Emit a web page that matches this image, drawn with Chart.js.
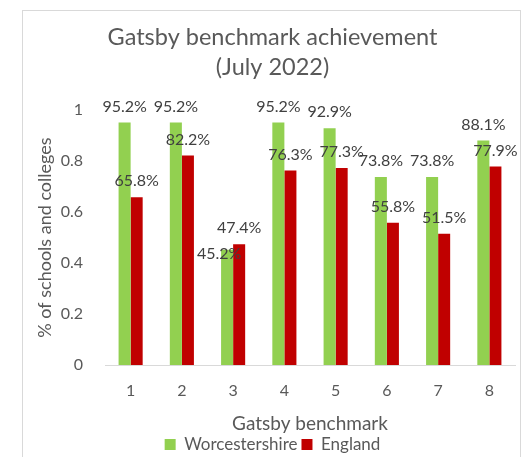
<!DOCTYPE html>
<html lang="en">
<head>
<meta charset="UTF-8">
<title>Gatsby benchmark achievement</title>
<script src="https://cdn.jsdelivr.net/npm/chart.js"></script>
<style>
  body { margin: 0; background: #fff; }
  #frame { position: absolute; left: 22px; top: 10px; width: 497px; height: 460px; border: 1px solid #d9d9d9; }
  #wrap { position: absolute; left: 0; top: 0; width: 526px; height: 457px; }
</style>
</head>
<body>
<div id="frame"></div>
<div id="wrap"><canvas id="chart"></canvas></div>
<script>
const benchmarks = ['1', '2', '3', '4', '5', '6', '7', '8'];
const worcestershire = [0.952, 0.952, 0.452, 0.952, 0.929, 0.738, 0.738, 0.881];
const england = [0.658, 0.822, 0.474, 0.763, 0.773, 0.558, 0.515, 0.779];
const yTicks = [0, 0.2, 0.4, 0.6, 0.8, 1];

const grey = '#595959';
const font = 'Lato';

// percentage labels above each bar (Excel moved the 45.2% one aside)
const valueLabels = {
    id: 'valueLabels',
    afterDatasetsDraw(chart, args, opts) {
        const ctx = chart.ctx;
        ctx.save();
        ctx.font = opts.size + 'px ' + font;
        ctx.fillStyle = opts.color;
        ctx.textAlign = 'center';
        ctx.textBaseline = 'middle';
        chart.data.datasets.forEach((ds, di) => {
            chart.getDatasetMeta(di).data.forEach((bar, i) => {
                const n = (opts.nudge[di] && opts.nudge[di][i]) || [0, 0];
                const txt = (ds.data[i] * 100).toFixed(1) + '%';
                ctx.fillText(txt, bar.x + n[0], bar.y - opts.offset + n[1]);
            });
        });
        ctx.restore();
    }
};

new Chart(document.getElementById('chart'), {
    type: 'bar',
    data: {
        labels: benchmarks,
        datasets: [{
            label: 'Worcestershire',
            data: worcestershire,
            backgroundColor: '#92d050'
        }, {
            label: 'England',
            data: england,
            backgroundColor: '#c00000'
        }]
    },
    options: {
        responsive: true,
        maintainAspectRatio: false,
        animation: false,
        datasets: {
            bar: { categoryPercentage: 0.47, barPercentage: 1 }
        },
        layout: { padding: { left: 30, right: 11, top: 0, bottom: -6 } },
        scales: {
            x: {
                grid: { display: false },
                border: { display: true, color: '#d9d9d9' },
                ticks: { color: grey, font: { family: font, size: 16 }, padding: 8 },
                title: {
                    display: true, text: 'Gatsby benchmark', color: grey,
                    font: { family: font, size: 19, lineHeight: 0.84 }, padding: 0
                },
                afterFit: (s) => { s.height = 67; }
            },
            y: {
                min: 0,
                max: 1,
                afterBuildTicks: (s) => { s.ticks = yTicks.map(v => ({ value: v })); },
                grid: { display: false, drawTicks: false },
                border: { display: false },
                ticks: {
                    color: grey, font: { family: font, size: 16 }, padding: 22,
                    callback: (v) => String(v)
                },
                title: {
                    display: true, text: '% of schools and colleges', color: grey,
                    font: { family: font, size: 18 }, padding: 4
                },
                afterFit: (s) => { s.width = 75; }
            }
        },
        plugins: {
            title: {
                display: true,
                text: ['Gatsby benchmark achievement', '(July 2022)'],
                color: grey,
                font: { family: font, size: 23.5, weight: 'normal', lineHeight: 1.28 },
                padding: { top: 22, bottom: 28 }
            },
            legend: {
                position: 'bottom',
                labels: {
                    color: grey, font: { family: font, size: 17 },
                    boxWidth: 11, boxHeight: 11, padding: 4
                }
            },
            tooltip: { enabled: false },
            valueLabels: {
                size: 16, color: '#404040', offset: 16,
                nudge: { 0: { 2: [-8, 20] } }
            }
        }
    },
    plugins: [valueLabels]
});
</script>
</body>
</html>
